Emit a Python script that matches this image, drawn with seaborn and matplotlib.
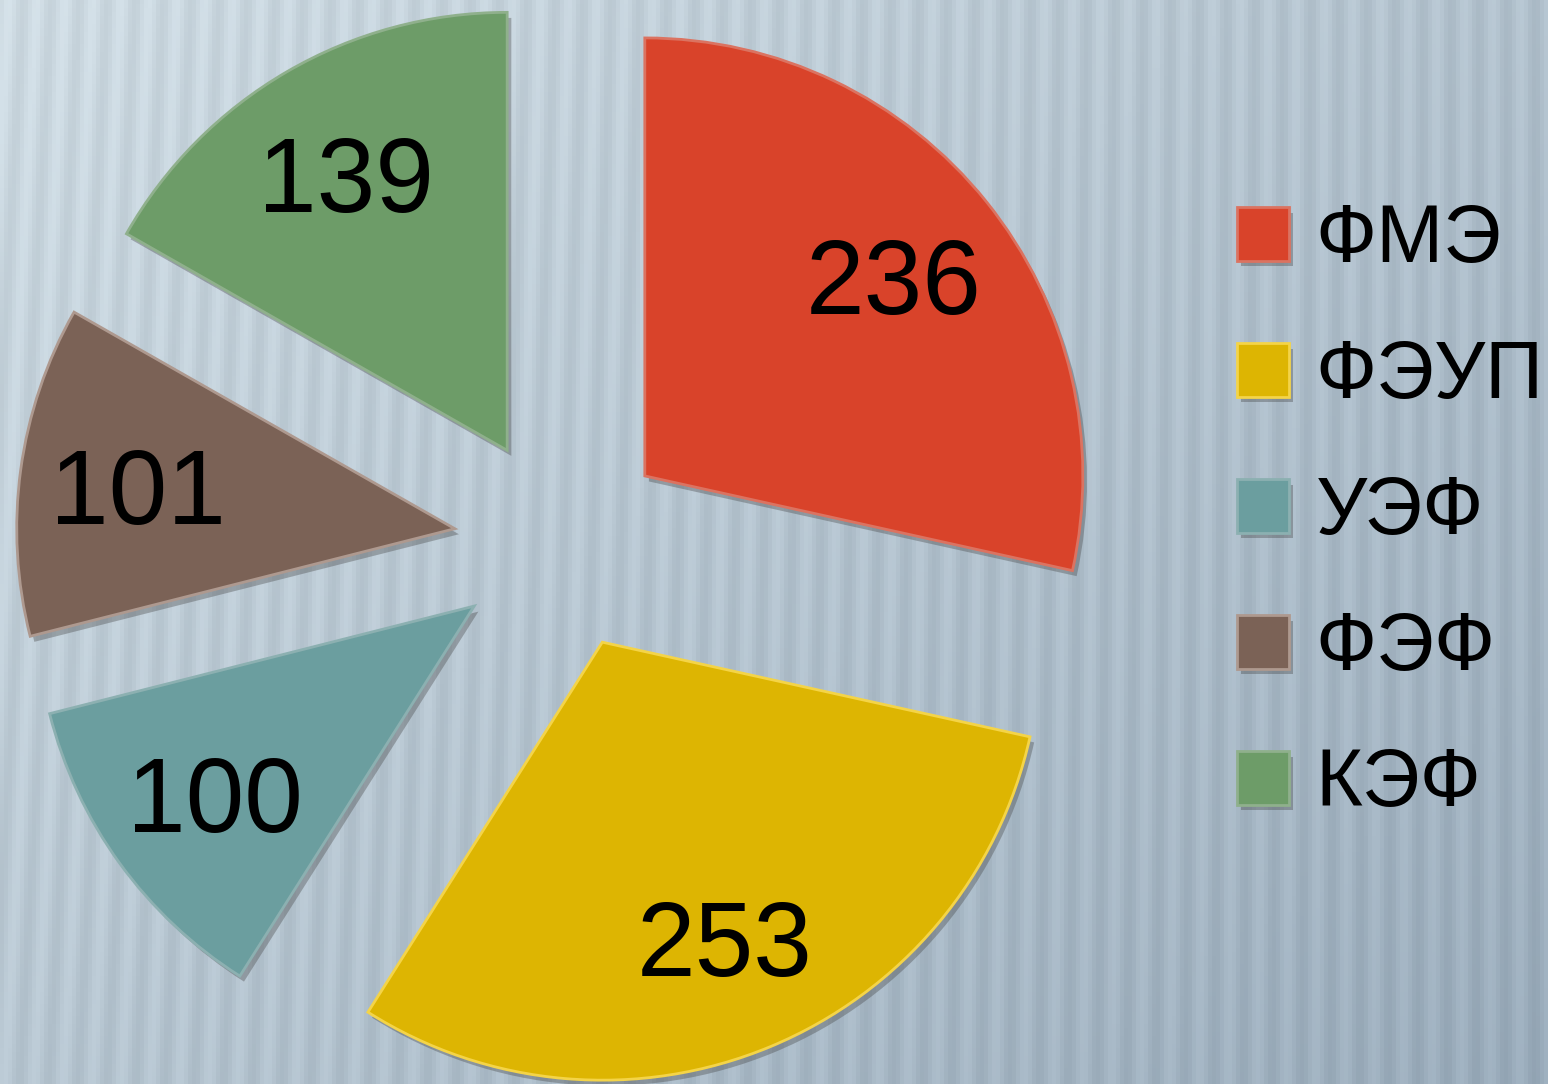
import numpy as np
import matplotlib
matplotlib.use("Agg")
import matplotlib.pyplot as plt
import matplotlib.patheffects as pe
import seaborn as sns

# данные
faculties = ["ФМЭ", "ФЭУП", "УЭФ", "ФЭФ", "КЭФ"]
counts = [236, 253, 100, 101, 139]
slice_colors = ["#D9432A", "#DDB502", "#6B9E9F", "#7B6256", "#6D9C68"]

sns.set_theme(style="white")
plt.rcParams["font.family"] = ["Liberation Sans", "DejaVu Sans"]

fig = plt.figure(figsize=(15.48, 10.84), dpi=100)

# фон: светлый серо-голубой градиент с вертикальными полосами
bg = fig.add_axes([0, 0, 1, 1])
h, w = 271, 387
yy, xx = np.mgrid[0:h, 0:w]
shade = 0.55 * (xx / w) + 0.45 * (yy / h)
stripes = 0.03 * np.sin(xx * 2 * np.pi / 7.0 + yy * 0.05 * (1 - xx / w))
top = np.array([0.81, 0.86, 0.89])
bottom = np.array([0.60, 0.67, 0.73])
img = top + (bottom - top) * shade[..., None] + stripes[..., None]
bg.imshow(np.clip(img, 0, 1), aspect="auto", extent=[0, 1, 0, 1])
bg.set_axis_off()

ax = fig.add_axes([0, 0, 1, 1])
ax.set_axis_off()

total = sum(counts)
wedges, texts, autotexts = ax.pie(
    counts,
    colors=sns.color_palette(slice_colors),
    explode=[0.245] * len(counts),
    startangle=90,
    counterclock=False,
    autopct=lambda p: f"{p * total / 100:.0f}",
    pctdistance=0.73,
    radius=1.0,
    frame=False,
    wedgeprops=dict(linewidth=2.0),
    textprops=dict(fontsize=76, color="black"),
)
ax.set_xlim(-1.281, 2.253)
ax.set_ylim(-1.235, 1.240)
ax.set_aspect("auto")

for t in autotexts:
    t.set_verticalalignment("center_baseline")

for wdg, c in zip(wedges, slice_colors):
    lighter = sns.desaturate(c, 0.9)
    wdg.set_edgecolor(sns.set_hls_values(lighter, l=0.62))
    wdg.set_path_effects([
        pe.SimplePatchShadow(offset=(3, -4), shadow_rgbFace="#404040", alpha=0.35),
        pe.Normal(),
    ])

leg = ax.legend(
    wedges,
    faculties,
    loc="center left",
    bbox_to_anchor=(0.799, 0.5265),
    bbox_transform=fig.transFigure,
    frameon=False,
    fontsize=58,
    handlelength=0.645,
    handleheight=0.645,
    handletextpad=0.33,
    labelspacing=0.745,
    borderaxespad=0,
    borderpad=0,
)
for t in leg.get_texts():
    t.set_color("black")

fig.savefig("out.png", dpi=100)
